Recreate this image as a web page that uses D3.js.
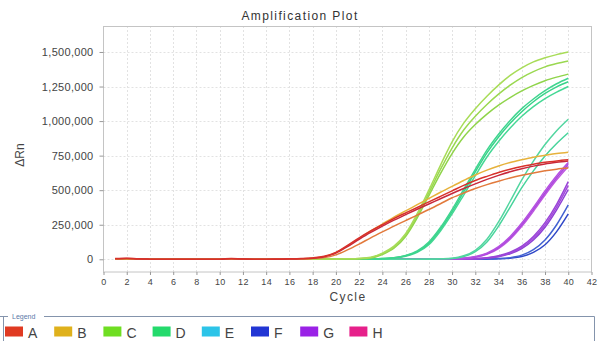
<!DOCTYPE html>
<html>
<head>
<meta charset="utf-8">
<script src="https://cdn.jsdelivr.net/npm/d3@7"></script>
<style>
  html, body { margin: 0; padding: 0; background: #fff; }
  svg { display: block; font-family: "Liberation Sans", Arial, sans-serif; }
</style>
</head>
<body>
<svg id="chart" width="599" height="341"></svg>
<script>
// cycle numbers on the x axis
const cycles = d3.range(1, 41);

// legend groups
const groups = ['A', 'B', 'C', 'D', 'E', 'F', 'G', 'H'];
const groupColors = ['#e03a22', '#dfb11c', '#6fde22', '#24da6c', '#2cc4e8', '#2236d4', '#9a22e6', '#e6208a'];

// ΔRn per cycle (thousands)
const wellA1 = [5,8,3,1,0,0,0,0,0,1,6,2,1,1,2,3,5,10,22,50,100,155,205,250,295,335,375,415,455,495,535,570,600,628,652,672,688,702,712,720];
const wellA2 = [3,5,2,1,0,0,0,0,0,0,4,2,1,1,1,2,4,8,19,45,92,145,195,240,283,323,362,400,438,476,512,546,578,607,633,655,674,690,702,712];
const wellB1 = [2,3,1,0,0,0,0,0,0,0,2,1,0,1,1,2,4,8,18,48,95,150,205,255,305,350,395,440,485,528,570,610,645,675,700,720,738,752,765,775];
const wellB2 = [2,4,1,0,0,0,0,0,0,0,3,1,0,0,1,1,3,6,12,32,68,110,155,198,240,280,320,360,402,445,480,512,540,565,588,608,625,640,652,660];
const wellC1 = [1,2,1,0,0,0,0,0,0,0,1,0,0,0,0,1,1,1,2,2,3,6,15,45,95,185,330,500,680,850,985,1090,1180,1260,1330,1385,1428,1458,1481,1500];
const wellC2 = [1,1,1,0,0,0,0,0,0,0,1,0,0,0,0,0,1,1,1,2,3,5,12,40,88,175,315,480,650,805,935,1035,1120,1195,1260,1315,1358,1392,1416,1435];
const wellC3 = [1,1,0,0,0,0,0,0,0,0,1,0,0,0,0,0,1,1,1,2,2,4,10,35,80,165,300,460,620,765,885,975,1050,1115,1170,1218,1258,1292,1318,1340];
const wellD1 = [1,1,0,0,0,0,0,0,0,0,1,0,0,0,0,0,0,1,1,1,1,2,3,5,12,28,60,125,230,360,505,650,790,905,1005,1090,1160,1220,1270,1310];
const wellD2 = [1,1,0,0,0,0,0,0,0,0,1,0,0,0,0,0,0,1,1,1,1,2,3,5,11,25,55,115,218,345,488,632,770,885,985,1068,1140,1200,1248,1285];
const wellD3 = [1,0,0,0,0,0,0,0,0,0,1,0,0,0,0,0,0,0,1,1,1,1,2,4,9,22,50,105,205,328,465,605,740,852,950,1035,1105,1163,1210,1250];
const wellE1 = [0,1,0,0,0,0,0,0,0,0,1,0,0,0,0,0,0,0,0,1,0,0,0,1,0,1,1,2,4,8,25,65,145,270,420,575,710,830,930,1013];
const wellE2 = [0,1,0,0,0,0,0,0,0,0,1,0,0,0,0,0,0,0,0,1,0,0,0,1,0,1,1,1,3,6,20,55,125,240,378,518,640,748,838,916];
const wellG1 = [0,1,0,0,0,0,0,0,0,0,1,0,0,0,0,0,0,0,0,0,0,0,0,1,0,1,1,1,2,4,9,20,45,92,165,262,375,495,605,700];
const wellG2 = [0,0,0,0,0,0,0,0,0,0,1,0,0,0,0,0,0,0,0,0,0,0,0,1,0,0,1,1,2,3,7,17,40,84,155,250,362,480,590,688];
const wellG3 = [0,0,0,0,0,0,0,0,0,0,0,0,0,0,0,0,0,0,0,0,0,0,0,0,0,0,1,1,1,3,6,15,36,78,145,238,348,465,575,672];
const wellH1 = [0,0,0,0,0,0,0,0,0,0,0,0,0,0,0,0,0,0,0,0,0,0,0,0,0,0,0,1,1,1,2,5,12,26,52,95,165,265,398,562];
const wellH2 = [0,0,0,0,0,0,0,0,0,0,0,0,0,0,0,0,0,0,0,0,0,0,0,0,0,0,0,0,1,1,2,4,10,22,46,86,152,248,378,535];
const wellH3 = [0,0,0,0,0,0,0,0,0,0,0,0,0,0,0,0,0,0,0,0,0,0,0,0,0,0,0,0,0,1,1,3,8,18,40,78,140,232,358,505];
const wellF1 = [0,0,0,0,0,0,0,0,0,0,0,0,0,0,0,0,0,0,0,0,0,0,0,0,0,0,0,0,0,0,0,0,2,5,12,30,70,140,250,393];
const wellF2 = [0,0,0,0,0,0,0,0,0,0,0,0,0,0,0,0,0,0,0,0,0,0,0,0,0,0,0,0,0,0,0,0,1,3,8,20,50,105,200,328];

// draw order: last one ends on top
const wells = [
  { group: 'F', color: '#3048c8', values: wellF2 },
  { group: 'F', color: '#4262d2', values: wellF1 },
  { group: 'H', color: '#8e42d4', values: wellH3 },
  { group: 'H', color: '#a24ada', values: wellH2 },
  { group: 'H', color: '#9a44d8', values: wellH1 },
  { group: 'G', color: '#c058e0', values: wellG3 },
  { group: 'G', color: '#a848dc', values: wellG2 },
  { group: 'G', color: '#b650e2', values: wellG1 },
  { group: 'E', color: '#48d49c', values: wellE2 },
  { group: 'E', color: '#52d6a0', values: wellE1 },
  { group: 'D', color: '#45d895', values: wellD3 },
  { group: 'D', color: '#38d38a', values: wellD2 },
  { group: 'D', color: '#3fd58f', values: wellD1 },
  { group: 'C', color: '#8fd44a', values: wellC3 },
  { group: 'C', color: '#9ad850', values: wellC2 },
  { group: 'C', color: '#a8dc58', values: wellC1 },
  { group: 'B', color: '#e27a3c', values: wellB2 },
  { group: 'B', color: '#e6b23c', values: wellB1 },
  { group: 'A', color: '#c8283c', values: wellA2 },
  { group: 'A', color: '#d8312a', values: wellA1 }
];

const xTicks = d3.range(0, 43, 2);
const yTicks = [0, 250000, 500000, 750000, 1000000, 1250000, 1500000];

const svg = d3.select('#chart');

const x = d3.scaleLinear().domain([0, 42]).range([103.5, 591.5]);
const y = d3.scaleLinear().domain([-92000, 1688000]).range([272, 26]);

// grid
const grid = svg.append('g').attr('stroke', '#e2e2e2').attr('stroke-dasharray', '2,2');
grid.selectAll('line.v').data(xTicks.slice(1, -1)).join('line')
  .attr('x1', d => Math.round(x(d)) + 0.5).attr('x2', d => Math.round(x(d)) + 0.5)
  .attr('y1', 26).attr('y2', 272);
grid.selectAll('line.h').data(yTicks).join('line')
  .attr('y1', d => Math.round(y(d)) + 0.5).attr('y2', d => Math.round(y(d)) + 0.5)
  .attr('x1', 103.5).attr('x2', 591.5);

// frame
svg.append('rect')
  .attr('x', 103.5).attr('y', 26.5).attr('width', 488).attr('height', 245.5)
  .attr('fill', 'none').attr('stroke', '#c4c4c4');

// axes
const xAxis = svg.append('g').attr('transform', 'translate(0,272)')
  .call(d3.axisBottom(x).tickValues(xTicks).tickSize(3).tickPadding(4));
const yAxis = svg.append('g').attr('transform', 'translate(103.5,0)')
  .call(d3.axisLeft(y).tickValues(yTicks).tickFormat(d3.format(',')).tickSize(4).tickPadding(6));
[xAxis, yAxis].forEach(a => {
  a.select('.domain').remove();
  a.selectAll('line').attr('stroke', '#999');
  a.selectAll('text').attr('fill', '#444').style('font-size', '11px').style('letter-spacing', '0.3px');
});
xAxis.selectAll('text').style('font-size', '9px');

// amplification curves
const line = d3.line()
  .x((d, i) => x(cycles[i]))
  .y(d => y(d * 1000))
  .curve(d3.curveMonotoneX);

svg.append('g')
  .selectAll('path')
  .data(wells)
  .join('path')
  .attr('d', d => line(d.values))
  .attr('fill', 'none')
  .attr('stroke', d => d.color)
  .attr('stroke-width', 1.5)
  .attr('stroke-linejoin', 'round');

// titles
svg.append('text').attr('x', 300).attr('y', 20).attr('text-anchor', 'middle')
  .style('font-size', '12px').style('letter-spacing', '1.4px').attr('fill', '#333')
  .text('Amplification Plot');
svg.append('text').attr('x', 348).attr('y', 301).attr('text-anchor', 'middle')
  .style('font-size', '12px').style('letter-spacing', '1.4px').attr('fill', '#444')
  .text('Cycle');
svg.append('text').attr('transform', 'translate(24,155) rotate(-90)').attr('text-anchor', 'middle')
  .style('font-size', '12px').attr('fill', '#444')
  .text('ΔRn');

// legend box
const legend = svg.append('g');
legend.append('path')
  .attr('d', 'M0,316.5H8M3.5,316.5V341M44,316.5H594.5V341')
  .attr('fill', 'none').attr('stroke', '#8494ac');
legend.append('text').attr('x', 12).attr('y', 318.5)
  .style('font-size', '7px').attr('fill', '#5b78a8').text('Legend');

const item = legend.selectAll('g.item').data(groups).join('g')
  .attr('transform', (d, i) => `translate(${5 + i * 49.2},0)`);
item.append('rect').attr('x', 0).attr('y', 326.5).attr('width', 18).attr('height', 10)
  .attr('fill', (d, i) => groupColors[i]);
item.append('text').attr('x', 23).attr('y', 338)
  .style('font-size', '14px').attr('fill', '#444').text(d => d);
</script>
</body>
</html>
